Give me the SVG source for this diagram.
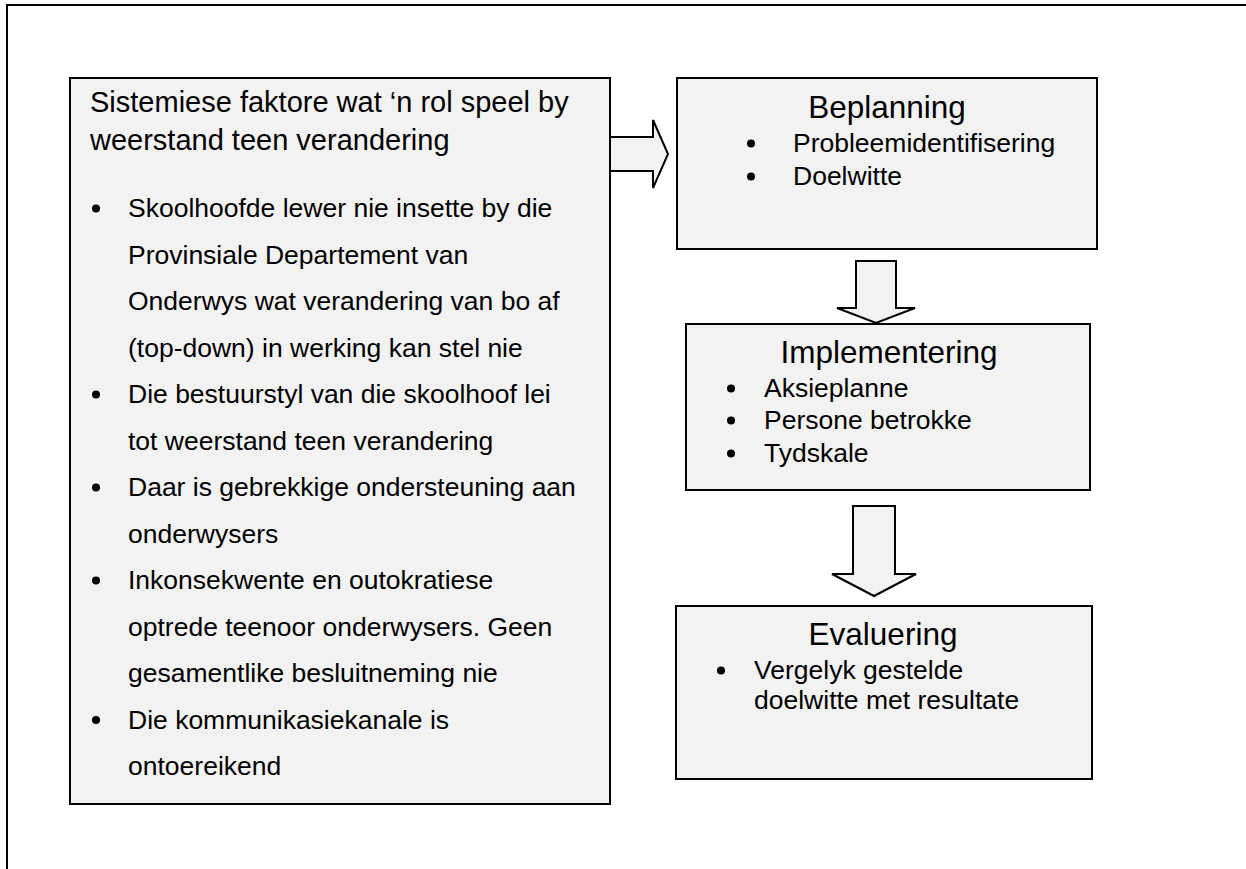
<svg xmlns="http://www.w3.org/2000/svg" width="1246" height="869" viewBox="0 0 1246 869">
<style>
.box{fill:#f2f2f2;stroke:#000;stroke-width:2}
.arr{fill:#f2f2f2;stroke:#000;stroke-width:2;stroke-linejoin:miter}
text{font-family:"Liberation Sans",Arial,sans-serif;fill:#000}
.t{font-size:29px}
.h{font-size:31.5px;text-anchor:middle}
.b{font-size:26.5px}
circle{fill:#000}
</style>
<rect x="0" y="0" width="1246" height="869" fill="#fff"/>
<rect x="7" y="5" width="1260" height="880" fill="none" stroke="#000" stroke-width="2"/>
<g id="connectors">
<polygon class="arr" points="610,137 653,137 653,120 668,154 653,188 653,171 610,171"/>
<polygon class="arr" points="856,261 896,261 896,308 915,308 876,323 837,308 856,308"/>
<polygon class="arr" points="853,506 895,506 895,574 916,574 874,596 832,574 853,574"/>
</g>
<g id="factors">
<rect class="box" x="70" y="78" width="540" height="726"/>
<text class="t" x="90" y="112">Sistemiese faktore wat ‘n rol speel by</text>
<text class="t" x="90" y="150">weerstand teen verandering</text>
<circle cx="96" cy="208.5" r="4"/><text class="b" x="128" y="217">Skoolhoofde lewer nie insette by die</text>
<text class="b" x="128" y="263.5">Provinsiale Departement van</text>
<text class="b" x="128" y="310">Onderwys wat verandering van bo af</text>
<text class="b" x="128" y="356.5">(top-down) in werking kan stel nie</text>
<circle cx="96" cy="394.5" r="4"/><text class="b" x="128" y="403">Die bestuurstyl van die skoolhoof lei</text>
<text class="b" x="128" y="449.5">tot weerstand teen verandering</text>
<circle cx="96" cy="487.5" r="4"/><text class="b" x="128" y="496">Daar is gebrekkige ondersteuning aan</text>
<text class="b" x="128" y="542.5">onderwysers</text>
<circle cx="96" cy="580.5" r="4"/><text class="b" x="128" y="589">Inkonsekwente en outokratiese</text>
<text class="b" x="128" y="635.5">optrede teenoor onderwysers. Geen</text>
<text class="b" x="128" y="682">gesamentlike besluitneming nie</text>
<circle cx="96" cy="720" r="4"/><text class="b" x="128" y="728.5">Die kommunikasiekanale is</text>
<text class="b" x="128" y="775">ontoereikend</text>
</g>
<g id="beplanning">
<rect class="box" x="677" y="78" width="420" height="171"/>
<text class="h" x="887" y="118">Beplanning</text>
<circle cx="751" cy="143.5" r="4"/><text class="b" x="793" y="152">Probleemidentifisering</text>
<circle cx="751" cy="176.5" r="4"/><text class="b" x="793" y="185">Doelwitte</text>
</g>
<g id="implementering">
<rect class="box" x="686" y="324" width="404" height="166"/>
<text class="h" x="889" y="363">Implementering</text>
<circle cx="731" cy="388.5" r="4"/><text class="b" x="764" y="397">Aksieplanne</text>
<circle cx="731" cy="420.5" r="4"/><text class="b" x="764" y="429">Persone betrokke</text>
<circle cx="731" cy="453.5" r="4"/><text class="b" x="764" y="462">Tydskale</text>
</g>
<g id="evaluering">
<rect class="box" x="676" y="606" width="416" height="173"/>
<text class="h" x="883" y="645">Evaluering</text>
<circle cx="721" cy="670.5" r="4"/><text class="b" x="754" y="679">Vergelyk gestelde</text>
<text class="b" x="754" y="709">doelwitte met resultate</text>
</g>
</svg>
